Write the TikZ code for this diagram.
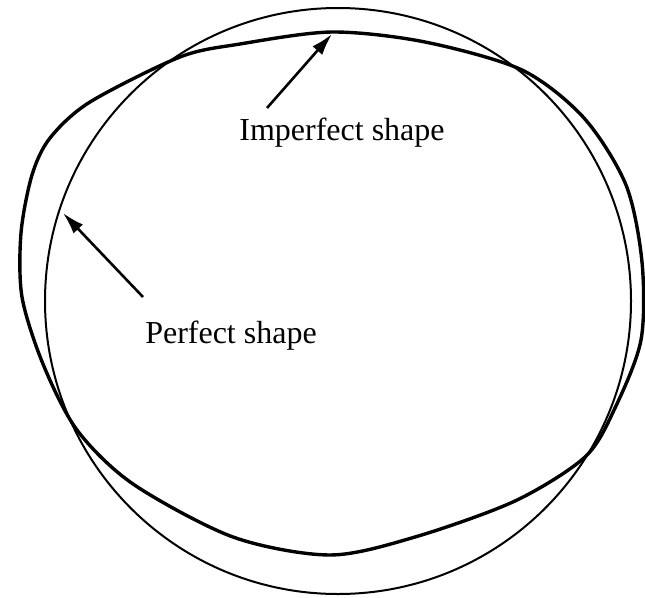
\documentclass[tikz,border=0pt]{standalone}
\usepackage{fontspec}
\setmainfont{Liberation Serif}
\usetikzlibrary{arrows.meta}
\begin{document}
\begin{tikzpicture}[x=1pt, y=-1pt,
  perfect/.style={line width=2pt},
  imperfect/.style={line width=3.4pt, line join=round},
  lbl/.style={font=\fontsize{32}{38}\selectfont, anchor=base, inner sep=0pt},
  arr/.style={-{Latex[length=22pt, width=13pt]}, line width=2.6pt},
]
\useasboundingbox (0,0) rectangle (645,597);
% perfect shape
\draw[perfect] (338,301) circle [radius=293];
% imperfect shape
\draw[imperfect] plot[smooth cycle, tension=0.5] coordinates {
  (332,32) (425,42) (522,70) (584,118) (626,185) (642,262) (641,340)
  (615,408) (585,457) (515,501) (415,537) (330,555) (233,537) (133,484)
  (77,430) (43,364) (22,297) (21,233) (32,175) (50,138) (90,102)
  (180,57) (240,44)};
% labels
\node[lbl] (imp) at (342,140) {Imperfect shape};
\node[lbl] (perf) at (231,343) {Perfect shape};
\coordinate (imptail) at (267,108);
\coordinate (imptip) at (332,34);
\coordinate (perftail) at (143,297);
\coordinate (perftip) at (63,213);
\draw[arr] (imptail) -- (imptip);
\draw[arr] (perftail) -- (perftip);
\end{tikzpicture}
\end{document}
